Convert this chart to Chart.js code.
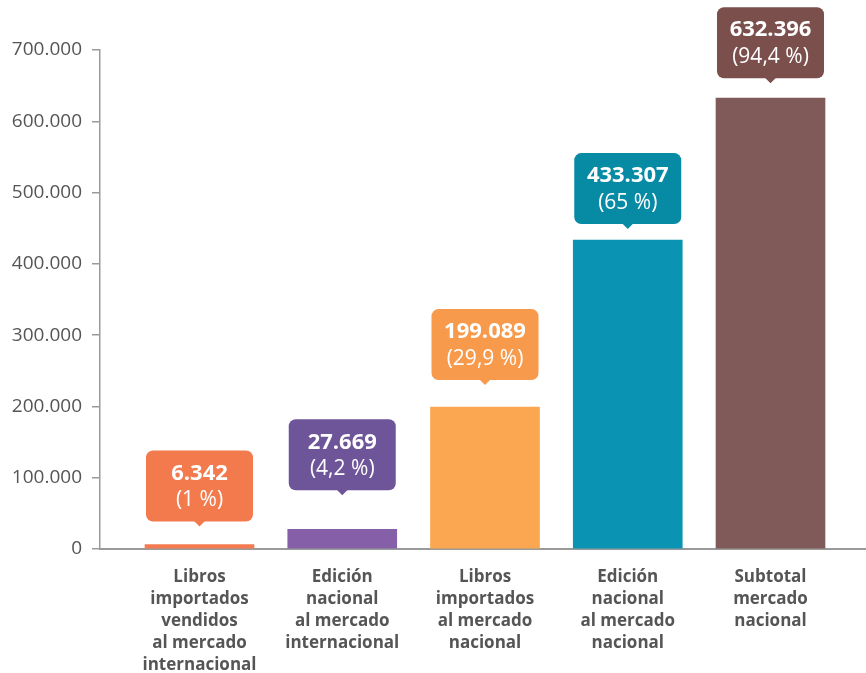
<!DOCTYPE html>
<html lang="es">
<head>
  <meta charset="UTF-8">
  <title>Mercado del libro</title>
  <script src="https://cdn.jsdelivr.net/npm/chart.js"></script>
  <style>
    body { margin: 0; background: #fff; }
    #wrap { width: 866px; height: 673px; }
  </style>
</head>
<body>
  <div id="wrap"><canvas id="chart" width="866" height="673"></canvas></div>

  <script>
    // categorias (una linea por elemento)
    const categories = [
      ['Libros', 'importados', 'vendidos', 'al mercado', 'internacional'],
      ['Edición', 'nacional', 'al mercado', 'internacional'],
      ['Libros', 'importados', 'al mercado', 'nacional'],
      ['Edición', 'nacional', 'al mercado', 'nacional'],
      ['Subtotal', 'mercado', 'nacional']
    ];
    const values = [6342, 27669, 199089, 433307, 632396];
    const shareLabels = ['(1 %)', '(4,2 %)', '(29,9 %)', '(65 %)', '(94,4 %)'];
    const yTicks = [0, 100000, 200000, 300000, 400000, 500000, 600000, 700000];

    const barColors = ['#F47B4F', '#8560A9', '#FBA650', '#0A93B3', '#805A58'];
    const boxColors = ['#F37A4D', '#6E5499', '#F89A4B', '#078BA4', '#7A4F4C'];

    const fmt = v => String(v).replace(/\B(?=(\d{3})+(?!\d))/g, '.');

    // globos con el valor encima de cada barra
    const callouts = {
      id: 'callouts',
      afterDatasetsDraw(chart, args, opts) {
        const ctx = chart.ctx;
        const meta = chart.getDatasetMeta(0);
        meta.data.forEach((bar, i) => {
          const w = bar.width - 2;
          const h = 71;
          const tip = bar.y - opts.gaps[i];
          const bottom = tip - 5;
          const top = bottom - h;
          ctx.save();
          ctx.fillStyle = boxColors[i];
          ctx.beginPath();
          ctx.roundRect(bar.x - w / 2, top, w, h, 7);
          ctx.fill();
          ctx.beginPath();
          ctx.moveTo(bar.x - 6, bottom - 1);
          ctx.lineTo(bar.x, tip);
          ctx.lineTo(bar.x + 6, bottom - 1);
          ctx.closePath();
          ctx.fill();
          ctx.fillStyle = '#fff';
          ctx.textAlign = 'center';
          ctx.textBaseline = 'middle';
          ctx.font = 'bold 22px "Open Sans"';
          ctx.fillText(fmt(values[i]), bar.x, top + 23);
          ctx.font = '21px "Open Sans"';
          ctx.fillText(shareLabels[i], bar.x, top + 50);
          ctx.restore();
        });
      }
    };

    new Chart(document.getElementById('chart'), {
      type: 'bar',
      data: {
        datasets: [{
          data: values.map((v, i) => ({ x: i, y: v })),
          backgroundColor: barColors,
          barThickness: 109
        }]
      },
      options: {
        responsive: false,
        animation: false,
        layout: { padding: { top: 50, right: 0, bottom: 0, left: 0 } },
        plugins: {
          legend: { display: false },
          tooltip: { enabled: false },
          callouts: { gaps: [18, 34, 22, 11, 15] }
        },
        scales: {
          x: {
            type: 'linear',
            offset: false,
            min: -0.697,
            max: 4.669,
            afterBuildTicks: s => { s.ticks = categories.map((_, i) => ({ value: i })); },
            afterFit: s => { s.height = 124; },
            grid: { display: true, offset: false, drawOnChartArea: false, drawTicks: false },
            border: { display: true, color: '#9a9a9a', width: 2 },
            ticks: {
              padding: 17,
              maxRotation: 0,
              autoSkip: false,
              color: '#555',
              font: { family: 'Open Sans', size: 17, weight: 'bold', lineHeight: 1.29 },
              callback: v => categories[v]
            }
          },
          y: {
            min: 0,
            max: 700000,
            afterBuildTicks: s => { s.ticks = yTicks.map(v => ({ value: v })); },
            afterFit: s => { s.width = 100; },
            grid: { drawOnChartArea: false, drawTicks: true, tickLength: 8, color: '#9a9a9a', lineWidth: 1.5 },
            border: { display: true, color: '#9a9a9a', width: 1.5 },
            ticks: {
              padding: 10,
              color: '#555',
              font: { family: 'Open Sans', size: 19 },
              callback: v => fmt(v)
            }
          }
        }
      },
      plugins: [callouts]
    });
  </script>
</body>
</html>
